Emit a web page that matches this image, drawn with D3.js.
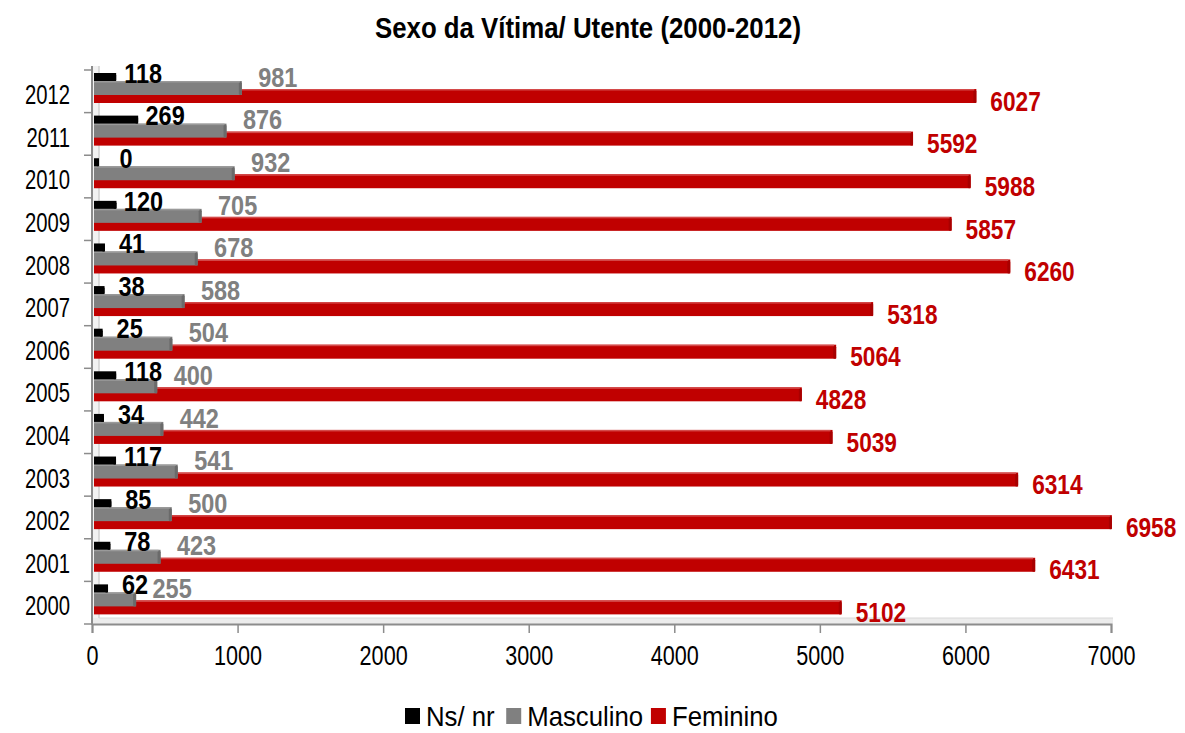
<!DOCTYPE html>
<html>
<head>
<meta charset="utf-8">
<script src="https://cdn.jsdelivr.net/npm/d3@7"></script>
<style>
  html, body { margin: 0; padding: 0; background: #fff; }
  svg { display: block; font-family: "Liberation Sans", Arial, sans-serif; }
</style>
</head>
<body>
<svg id="chart" width="1185" height="733"></svg>
<script>
// ---- data ----
const years = ["2000","2001","2002","2003","2004","2005","2006","2007","2008","2009","2010","2011","2012"];
const nsnr      = [62, 78, 85, 117, 34, 118, 25, 38, 41, 120, 0, 269, 118];
const masculino = [255, 423, 500, 541, 442, 400, 504, 588, 678, 705, 932, 876, 981];
const feminino  = [5102, 6431, 6958, 6314, 5039, 4828, 5064, 5318, 6260, 5857, 5988, 5592, 6027];
const seriesNames = ["Ns/ nr", "Masculino", "Feminino"];
const xTickValues = [0, 1000, 2000, 3000, 4000, 5000, 6000, 7000];
const titleText = "Sexo da Vítima/ Utente  (2000-2012)";

// ---- styles ----
const colors = { "Ns/ nr": "#000000", "Masculino": "#808080", "Feminino": "#C00000" };
const endColors = { "Ns/ nr": "#000000", "Masculino": "#6a6a6a", "Feminino": "#a80000" };

// horizontally condense text glyphs (reference uses a squeezed rendering)
function condense(sel, factor) {
  sel.each(function () {
    const L = this.getComputedTextLength();
    d3.select(this).attr("textLength", L * factor).attr("lengthAdjust", "spacingAndGlyphs");
  });
}

const svg = d3.select("#chart");

const x = d3.scaleLinear().domain([0, 7000]).range([92, 1111]);
const y = d3.scaleBand().domain(years.slice().reverse()).range([70, 624]).padding(0);
const sub = d3.scalePoint().domain(seriesNames).range([3, 19]);
const barH = { "Ns/ nr": 8, "Masculino": 14, "Feminino": 14 };
const depth = 7;

const seriesData = {
  "Ns/ nr": nsnr,
  "Masculino": masculino,
  "Feminino": feminino
};

// ---- 3D wall and floor ----
const g = svg.append("g");
g.append("rect").attr("x", x(0)).attr("y", 66).attr("width", depth).attr("height", 624 - 66)
  .attr("fill", "#f2f2f2");
g.append("line").attr("x1", x(0) + depth).attr("x2", x(0) + depth).attr("y1", 66).attr("y2", 618)
  .attr("stroke", "#d0d0d0").attr("stroke-width", 1.5);
g.append("rect").attr("x", x(0)).attr("y", 618).attr("width", x(7000) - x(0) + 2).attr("height", 6)
  .attr("fill", "#ececec");
g.append("line").attr("x1", x(0) + depth).attr("x2", x(7000) + 2).attr("y1", 618).attr("y2", 618)
  .attr("stroke", "#d8d8d8").attr("stroke-width", 1);

// ---- y axis ----
const yAxis = d3.axisLeft(y).tickSize(0).tickPadding(22).tickFormat(d => d);
const yAxisG = svg.append("g").attr("transform", `translate(${x(0)},0)`).call(yAxis);
yAxisG.select(".domain").remove();
yAxisG.selectAll("text")
  .attr("font-size", 27).attr("fill", "#000")
  .attr("font-family", "Liberation Sans, Arial, sans-serif")
  .attr("dy", "0.36em").attr("transform", "translate(0,3)");
condense(yAxisG.selectAll("text"), 0.75);
// boundary ticks
const bounds = years.map(yy => y(yy)).concat([y.range()[1]]);
svg.append("g").selectAll("line").data(bounds).join("line")
  .attr("x1", x(0) - 8).attr("x2", x(0)).attr("y1", d => d).attr("y2", d => d)
  .attr("stroke", "#8c8c8c").attr("stroke-width", 1.5);
svg.append("line").attr("x1", x(0)).attr("x2", x(0)).attr("y1", 66).attr("y2", 625)
  .attr("stroke", "#8c8c8c").attr("stroke-width", 2);

// ---- x axis ----
const xAxis = d3.axisBottom(x).tickValues(xTickValues).tickSize(9).tickPadding(13).tickFormat(d3.format("d"));
const xAxisG = svg.append("g").attr("transform", "translate(0,624)").call(xAxis);
xAxisG.select(".domain").attr("stroke", "#8c8c8c").attr("stroke-width", 2);
xAxisG.selectAll(".tick line").attr("stroke", "#8c8c8c").attr("stroke-width", 1.5);
xAxisG.selectAll("text").attr("font-size", 27).attr("fill", "#000")
  .attr("font-family", "Liberation Sans, Arial, sans-serif");
condense(xAxisG.selectAll("text"), 0.8);

// ---- bars ----
const drawOrder = ["Feminino", "Masculino", "Ns/ nr"];
drawOrder.forEach(s => {
  const vals = seriesData[s];
  const bg = svg.append("g").attr("class", "series-" + s);
  const rows = years.map((yy, i) => ({ year: yy, v: vals[i] }));
  bg.selectAll("rect.front").data(rows).join("rect")
    .attr("class", "front")
    .attr("x", x(0) + 2)
    .attr("y", d => y(d.year) + sub(s))
    .attr("width", d => Math.max(x(d.v) + depth - (x(0) + 2), 3))
    .attr("height", barH[s])
    .attr("fill", colors[s]);
  bg.selectAll("rect.end").data(rows).join("rect")
    .attr("class", "end")
    .attr("x", d => Math.max(x(d.v) + depth - 3, x(0) + 2))
    .attr("y", d => y(d.year) + sub(s) + 1)
    .attr("width", 3)
    .attr("height", barH[s] - 1)
    .attr("rx", 1.5)
    .attr("fill", endColors[s]);
  if (s !== "Ns/ nr") {
    bg.selectAll("rect.top").data(rows).join("rect")
      .attr("class", "top")
      .attr("x", x(0) + 2)
      .attr("y", d => y(d.year) + sub(s))
      .attr("width", d => Math.max(x(d.v) + depth - (x(0) + 2) - 2, 1))
      .attr("height", 1.5)
      .attr("fill", s === "Feminino" ? "#d44a4a" : "#9a9a9a");
  }
});

// ---- value labels ----
const labelCfg = {
  "Ns/ nr":    { dx: 34, dy: 3,  anchor: "middle", color: "#000000", k: 0.87 },
  "Masculino": { dx: 43, dy: 7,  anchor: "middle", color: "#808080", k: 0.87 },
  "Feminino":  { dx: 21, dy: 31, anchor: "start",  color: "#C00000", k: 0.84 }
};
seriesNames.forEach(s => {
  const cfg = labelCfg[s];
  const rows = years.map((yy, i) => ({ year: yy, v: seriesData[s][i] }));
  const lt = svg.append("g").selectAll("text").data(rows).join("text")
    .attr("x", d => x(d.v) + cfg.dx)
    .attr("y", d => y(d.year) + cfg.dy)
    .attr("dy", "0.36em")
    .attr("text-anchor", cfg.anchor)
    .attr("font-size", 27).attr("font-weight", "bold")
    .attr("fill", cfg.color)
    .text(d => d.v);
  condense(lt, cfg.k);
});

// ---- title ----
const title = svg.append("text")
  .attr("x", 588).attr("y", 38)
  .attr("text-anchor", "middle")
  .attr("font-size", 29).attr("font-weight", "bold")
  .attr("fill", "#000")
  .text(titleText);
condense(title, 0.89);

// ---- legend ----
const legend = svg.append("g");
let lx = 405;
seriesNames.forEach(s => {
  legend.append("rect").attr("x", lx).attr("y", 708).attr("width", 15).attr("height", 16).attr("fill", colors[s]);
  const t = legend.append("text").attr("x", lx + 21).attr("y", 716).attr("dy", "0.36em")
    .attr("font-size", 28).attr("fill", "#000").text(s);
  condense(t, 0.92);
  lx += 21 + t.node().getComputedTextLength() * 0.92 + 17;
});
</script>
</body>
</html>
